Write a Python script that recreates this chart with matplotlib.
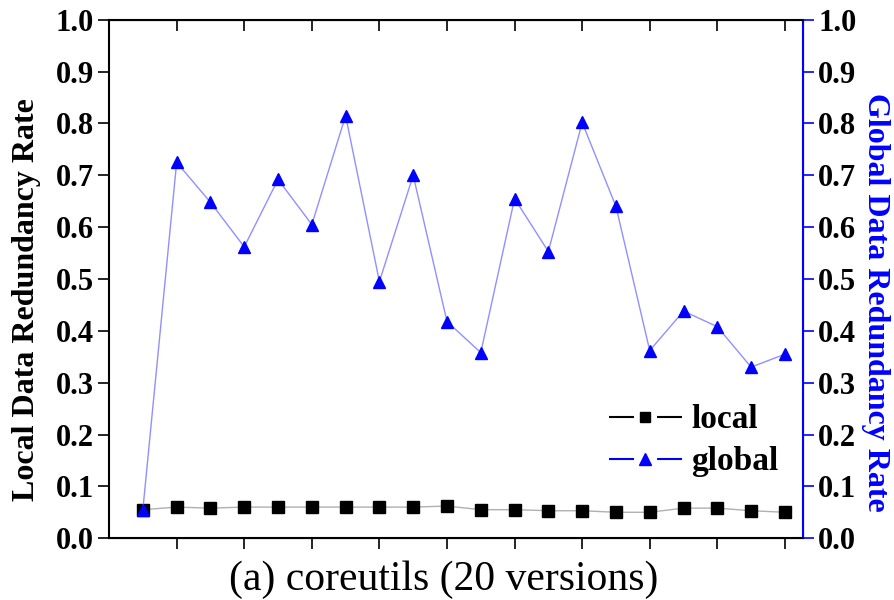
import numpy as np
import matplotlib.pyplot as plt
from matplotlib.lines import Line2D, TICKDOWN

versions = np.arange(1, 21)
local_rate = [0.055, 0.060, 0.058, 0.060, 0.060, 0.060, 0.060, 0.060, 0.060, 0.062,
              0.055, 0.055, 0.053, 0.053, 0.050, 0.050, 0.058, 0.058, 0.053, 0.050]
global_rate = [0.055, 0.725, 0.648, 0.562, 0.692, 0.605, 0.815, 0.495, 0.700, 0.418,
               0.358, 0.655, 0.553, 0.802, 0.640, 0.362, 0.438, 0.408, 0.330, 0.355]
yticks = np.arange(0, 1.01, 0.1)
xticks = np.arange(2, 21, 2)

plt.rcParams['font.family'] = ['Liberation Serif', 'DejaVu Serif']
plt.rcParams['font.weight'] = 'bold'
plt.rcParams['lines.scale_dashes'] = False

fig = plt.figure(figsize=(8.94, 6.0), dpi=100)
ax = fig.add_axes([0.122, 0.103, 0.776, 0.864])
ax2 = ax.twinx()

ax.plot(versions, local_rate, color='#b0b0b0', lw=1.0, zorder=2)
ax.plot(versions, local_rate, ls='none', marker='s', ms=9, color='black', zorder=3)
ax2.plot(versions, global_rate, color='#9090ff', lw=1.0, zorder=2)
ax2.plot(versions, global_rate, ls='none', marker='^', ms=9, color='blue', zorder=3)

ax.set_xlim(0, 20.53)
ax.set_ylim(0, 1.0)
ax2.set_ylim(0, 1.0)
ax.set_xticks(xticks)
ax.set_xticklabels([])
ax.set_yticks(yticks)
ax.set_yticklabels([f"{v:.1f}" for v in yticks], fontsize=22, fontweight='bold')
ax2.set_yticks(yticks)
ax2.set_yticklabels([f"{v:.1f}" for v in yticks], fontsize=22, fontweight='bold')

ax.tick_params(axis='x', direction='out', length=8, width=1.2)
ax.tick_params(axis='y', direction='out', length=8, width=1.2, pad=3)
ax2.tick_params(axis='y', direction='out', length=8, width=1.2, color='blue', pad=3)

# top ticks pointing inward, drawn at the same x tick positions
ax2.plot(xticks, np.ones(len(xticks)), ls='none', marker=TICKDOWN, ms=8, mew=1.2,
         color='black', clip_on=False, transform=ax2.get_xaxis_transform(), zorder=5)

for s in ['left', 'bottom', 'top']:
    ax.spines[s].set_linewidth(1.5)
ax2.spines['right'].set_color('blue')
ax2.spines['right'].set_linewidth(1.5)
ax2.spines['left'].set_visible(False)

ax.set_ylabel("Local Data Redundancy Rate", fontsize=23, fontweight='bold')
ax.yaxis.set_label_coords(-0.098, 0.461)
ax2.set_ylabel("Global Data Redundancy Rate", fontsize=23, fontweight='bold',
               color='blue', rotation=270, va='bottom')
ax2.yaxis.set_label_coords(1.084, 0.455)
ax.set_xlabel("(a) coreutils (20 versions)", fontsize=30, fontweight='normal')
ax.xaxis.set_label_coords(0.483, -0.042)

handles = [
    Line2D([], [], color='black', lw=1.5, dashes=(18, 16.6), marker='s', ms=7.5),
    Line2D([], [], color='blue', lw=1.5, dashes=(18, 16.6), marker='^', ms=8),
]
leg = ax.legend(handles, ['local', 'global'], loc='center left',
                bbox_to_anchor=(0.696, 0.188), frameon=False, fontsize=24,
                borderpad=0, handlelength=2.2, handletextpad=0.27, labelspacing=0.33)
for t in leg.get_texts():
    t.set_fontweight('bold')

fig.savefig("out.png", dpi=100)
